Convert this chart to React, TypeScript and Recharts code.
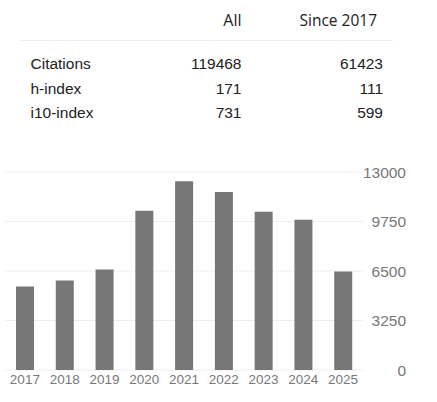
import React from 'react';
import { BarChart, Bar, XAxis, YAxis, CartesianGrid } from 'recharts';

const years = ['2017', '2018', '2019', '2020', '2021', '2022', '2023', '2024', '2025'];
const citations = [5480, 5870, 6600, 10450, 12400, 11680, 10390, 9860, 6470];
const yTicks = [0, 3250, 6500, 9750, 13000];

const columnHeaders = ['All', 'Since 2017'];
const metricLabels = ['Citations', 'h-index', 'i10-index'];
const allValues = ['119468', '171', '731'];
const sinceValues = ['61423', '111', '599'];

const data = years.map((y, i) => ({ year: y, value: citations[i] }));

const YTick = (props: any) => {
  const { x, y, payload } = props;
  return (
    <text x={x + 43} y={y} dy="0.355em" textAnchor="end" fill="#777" fontSize={15.5} fontFamily="Arial, 'Liberation Sans', sans-serif">
      {payload.value}
    </text>
  );
};

const XTick = (props: any) => {
  const { x, y, payload } = props;
  return (
    <text x={x} y={y} dy="0.71em" textAnchor="middle" fill="#777" fontSize={13.5} fontFamily="Arial, 'Liberation Sans', sans-serif">
      {payload.value}
    </text>
  );
};

export default function App() {
  const rowFont = "Arial, 'Liberation Sans', sans-serif";
  return (
    <div style={{ position: 'absolute', left: 0, top: 0, width: 437, height: 402, background: '#fff' }}>
      <svg width={437} height={160} style={{ position: 'absolute', left: 0, top: 0 }}>
        <text x={241.5} y={26} textAnchor="end" fill="#222" fontSize={16} fontFamily="'Open Sans', sans-serif">{columnHeaders[0]}</text>
        <text x={377} y={26} textAnchor="end" fill="#222" fontSize={15.5} fontFamily="'Open Sans', sans-serif">{columnHeaders[1]}</text>
        <line x1={20} x2={393} y1={40.5} y2={40.5} stroke="#eeeeee" strokeWidth={1} />
        {metricLabels.map((m, i) => (
          <g key={m}>
            <text x={30.5} y={69 + i * 24.5} fill="#222" fontSize={15.5} fontFamily={rowFont}>{m}</text>
            <text x={241.5} y={69 + i * 24.5} textAnchor="end" fill="#222" fontSize={15.5} fontFamily={rowFont}>{allValues[i]}</text>
            <text x={383} y={69 + i * 24.5} textAnchor="end" fill="#222" fontSize={15.5} fontFamily={rowFont}>{sinceValues[i]}</text>
          </g>
        ))}
      </svg>
      <div style={{ position: 'absolute', left: 0, top: 160 }}>
        <BarChart width={437} height={242} data={data} margin={{ top: 12, right: 0, bottom: 0, left: 5 }}>
          <CartesianGrid vertical={false} stroke="#eeeeee" />
          <XAxis dataKey="year" height={32} axisLine={false} tickLine={false} tickSize={0} tickMargin={4} tick={<XTick />} interval={0} />
          <YAxis orientation="right" width={74} domain={[0, 13000]} ticks={yTicks} axisLine={false} tickLine={false} tickSize={0} tickMargin={0} tick={<YTick />} />
          <Bar dataKey="value" fill="#777777" barSize={18} isAnimationActive={false} />
        </BarChart>
      </div>
    </div>
  );
}
